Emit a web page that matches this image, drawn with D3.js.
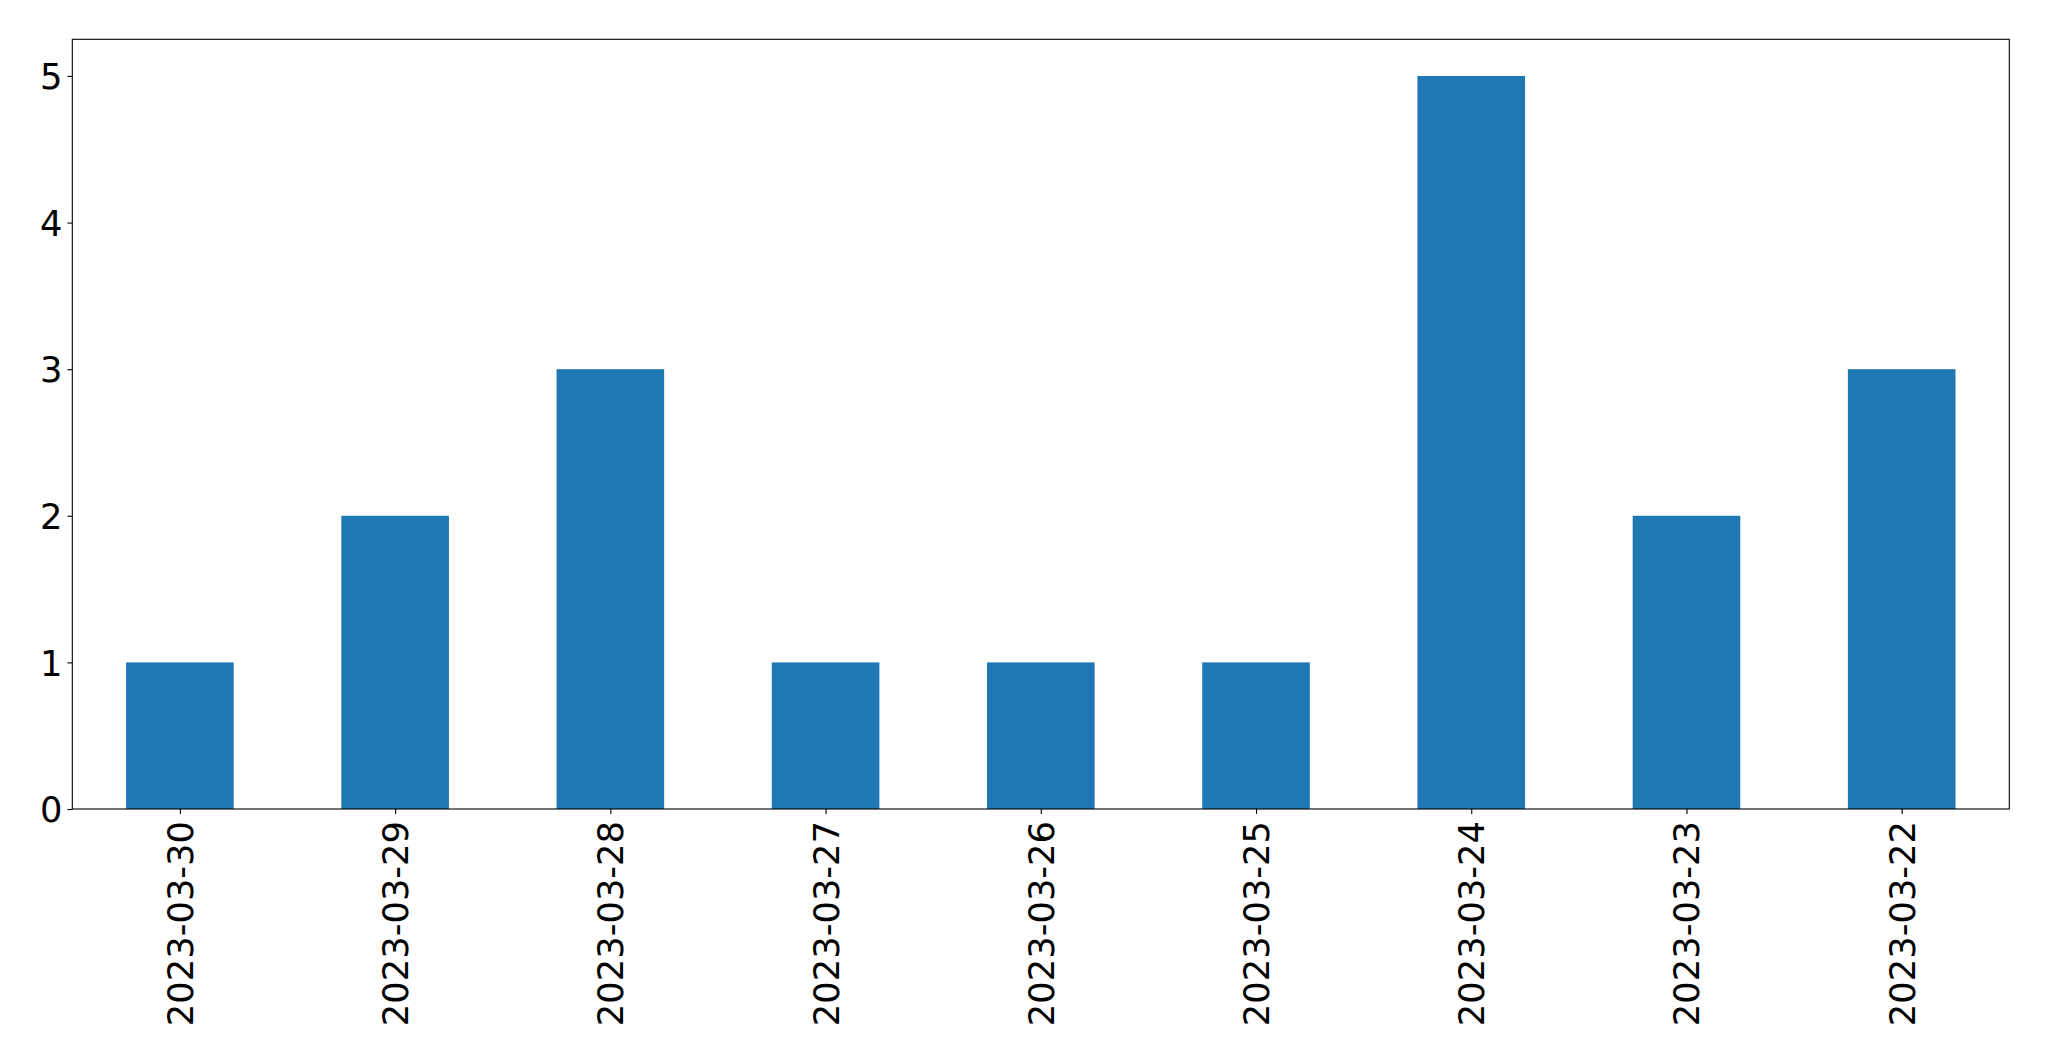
<!DOCTYPE html>
<html><head><meta charset="utf-8">
<script src="https://cdn.jsdelivr.net/npm/d3@7"></script>
<style>body{margin:0;background:#fff}svg{display:block}text{font-family:"DejaVu Sans",sans-serif}</style>
</head><body>
<script>
const categories = ["2023-03-30","2023-03-29","2023-03-28","2023-03-27","2023-03-26","2023-03-25","2023-03-24","2023-03-23","2023-03-22"];
const values = [1,2,3,1,1,1,5,2,3];
const yTicks = [0,1,2,3,4,5];

(function(){
const W = 2049, H = 1061;
const mLeft = 72.3, mRight = 2009.3, mTop = 39.3, mBottom = 809;
const svg = d3.select("body").append("svg").attr("width", W).attr("height", H);

const x = d3.scaleLinear().domain([-0.5, categories.length - 0.5]).range([mLeft, mRight]);
const y = d3.scaleLinear().domain([0, 5.25]).range([mBottom, mTop]);
const fs = 35.3;

svg.append("g").selectAll("rect").data(values).join("rect")
  .attr("x", (d,i) => x(i - 0.25)).attr("width", (d,i) => x(i + 0.25) - x(i - 0.25))
  .attr("y", d => y(d)).attr("height", d => y(0) - y(d))
  .attr("fill", "#1f77b4");

const yAxis = svg.append("g").attr("transform", `translate(${mLeft},0)`)
  .call(d3.axisLeft(y).tickValues(yTicks).tickFormat(d3.format("d")).tickSize(4.9).tickPadding(4.9));
yAxis.select(".domain").remove();
yAxis.selectAll("line").attr("stroke", "#000").attr("stroke-width", 1.1);
yAxis.selectAll("text").attr("font-size", fs).attr("fill", "#000").attr("dy", "0.36em").attr("font-family", "DejaVu Sans");

const xAxis = svg.append("g").attr("transform", `translate(0,${mBottom})`)
  .call(d3.axisBottom(x).tickValues(d3.range(categories.length)).tickFormat(i => categories[i]).tickSize(4.9).tickPadding(0));
xAxis.select(".domain").remove();
xAxis.selectAll("line").attr("stroke", "#000").attr("stroke-width", 1.1);
xAxis.selectAll("text").attr("font-size", fs).attr("fill", "#000").attr("font-family", "DejaVu Sans")
  .attr("text-anchor", "end").attr("dy", null).attr("y", 0)
  .attr("transform", "translate(0,12) rotate(-90)")
  .attr("dominant-baseline", "central");

svg.append("rect").attr("x", mLeft).attr("y", mTop).attr("width", mRight - mLeft).attr("height", mBottom - mTop)
  .attr("fill", "none").attr("stroke", "#000").attr("stroke-width", 1.1);
})();
</script>
</body></html>
